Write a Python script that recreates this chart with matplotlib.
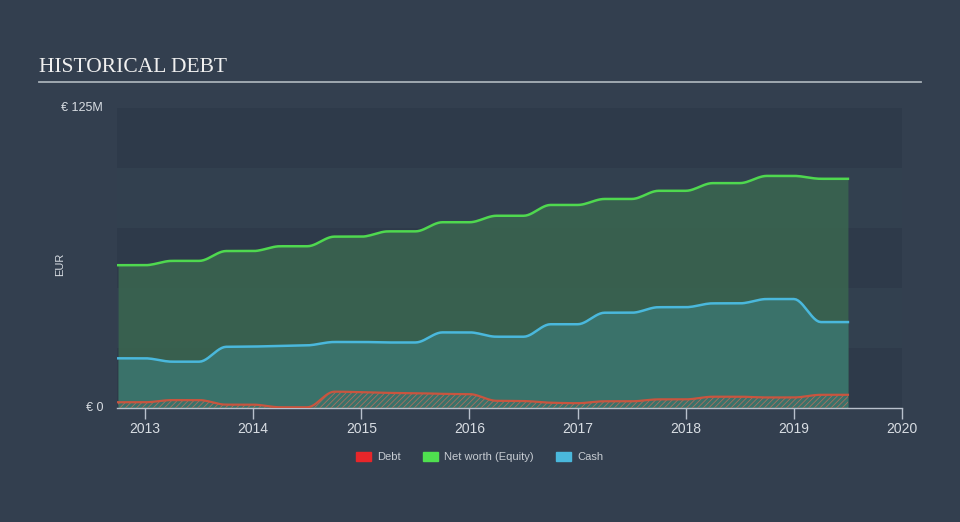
import numpy as np
import matplotlib
matplotlib.use("Agg")
import matplotlib.pyplot as plt
from matplotlib.patches import Patch

# ---- data (EUR millions, quarterly) ----
dates = [2012.75, 2013.0, 2013.25, 2013.5, 2013.75, 2014.0, 2014.25, 2014.5,
         2014.75, 2015.0, 2015.25, 2015.5, 2015.75, 2016.0, 2016.25, 2016.5,
         2016.75, 2017.0, 2017.25, 2017.5, 2017.75, 2018.0, 2018.25, 2018.5,
         2018.75, 2019.0, 2019.25, 2019.5]
net_worth = [59.5, 59.5, 61.3, 61.3, 65.4, 65.4, 67.4, 67.4,
             71.4, 71.4, 73.6, 73.6, 77.4, 77.4, 80.1, 80.1,
             84.6, 84.6, 87.1, 87.1, 90.5, 90.5, 93.7, 93.7,
             96.7, 96.7, 95.5, 95.5]
cash = [20.7, 20.7, 19.3, 19.3, 25.5, 25.6, 25.9, 26.1,
        27.5, 27.5, 27.3, 27.3, 31.5, 31.5, 29.7, 29.7,
        34.9, 34.9, 39.7, 39.7, 42.0, 42.0, 43.6, 43.6,
        45.4, 45.4, 35.8, 35.8]
debt = [2.4, 2.4, 3.3, 3.3, 1.4, 1.4, 0.3, 0.3,
        6.8, 6.6, 6.3, 6.2, 5.9, 5.8, 3.0, 2.9,
        2.2, 2.0, 2.8, 2.8, 3.6, 3.6, 4.7, 4.7,
        4.4, 4.4, 5.5, 5.5]
year_ticks = [2013, 2014, 2015, 2016, 2017, 2018, 2019, 2020]
legend_labels = ["Debt", "Net worth (Equity)", "Cash"]


def pchip(x, y, n=12):
    x = np.asarray(x, float); y = np.asarray(y, float)
    h = np.diff(x); d = np.diff(y) / h
    m = np.zeros_like(y)
    for k in range(1, len(y) - 1):
        if d[k - 1] * d[k] > 0:
            w1 = 2 * h[k] + h[k - 1]; w2 = h[k] + 2 * h[k - 1]
            m[k] = (w1 + w2) / (w1 / d[k - 1] + w2 / d[k])
    xs, ys = [], []
    for k in range(len(x) - 1):
        t = np.linspace(0, 1, n, endpoint=False)
        h00 = 2 * t**3 - 3 * t**2 + 1; h10 = t**3 - 2 * t**2 + t
        h01 = -2 * t**3 + 3 * t**2; h11 = t**3 - t**2
        xs.append(x[k] + t * h[k])
        ys.append(h00 * y[k] + h10 * h[k] * m[k] + h01 * y[k + 1] + h11 * h[k] * m[k + 1])
    xs.append([x[-1]]); ys.append([y[-1]])
    return np.concatenate(xs), np.concatenate(ys)


BG = "#333f4f"
SANS = ["Liberation Sans", "DejaVu Sans"]
plt.rcParams["hatch.linewidth"] = 0.6

fig = plt.figure(figsize=(9.6, 5.22), dpi=100, facecolor=BG)
ax = fig.add_axes([117 / 960, 1 - 408 / 522, (902 - 117) / 960, 300 / 522])
ax.set_facecolor(BG)

xmin, xmax = 2012.74, 2020.0
ymax = 125
# background bands
for i in range(5):
    c = "#2e3a4a" if i % 2 == 0 else "#32404f"
    ax.axhspan(i * 25, (i + 1) * 25, color=c, zorder=0, lw=0)

xs, nw = pchip(dates, net_worth)
_, cs = pchip(dates, cash)
_, db = pchip(dates, debt)

ax.fill_between(xs, 0, nw, color="#39634f", alpha=0.93, lw=0, zorder=1)
ax.fill_between(xs, 0, cs, color="#3b746c", alpha=0.95, lw=0, zorder=2)
ax.fill_between(xs, 0, db, facecolor="none", edgecolor="#a8705f", hatch="//////", lw=0, zorder=3)
ax.plot(xs, nw, color="#4fd84f", lw=1.8, zorder=5)
ax.plot(xs, cs, color="#4ab8dc", lw=1.8, zorder=5)
ax.plot(xs, db, color="#c9553f", lw=1.6, zorder=5)

ax.set_xlim(xmin, xmax)
ax.set_ylim(0, ymax)
for s in ["top", "right", "left"]:
    ax.spines[s].set_visible(False)
ax.spines["bottom"].set_color("#b8c0cc")
ax.spines["bottom"].set_linewidth(1)
ax.set_xticks(year_ticks)
ax.set_xticklabels([str(y) for y in year_ticks], family=SANS)
ax.tick_params(axis="x", colors="#b8c0cc", labelcolor="#d8dde3", labelsize=10,
               length=8, width=1, pad=2)
ax.set_yticks([])

fig.text(103 / 960, 1 - 108 / 522, "€ 125M", color="#d8dde3", fontsize=9,
         ha="right", va="center", family=SANS)
fig.text(103 / 960, 1 - 408 / 522, "€ 0", color="#d8dde3", fontsize=9,
         ha="right", va="center", family=SANS)
fig.text(60 / 960, 1 - 264 / 522, "EUR", color="#d8dde3", fontsize=8,
         ha="center", va="center", rotation=90, family=SANS)

# title and rule
fig.text(39 / 960, 1 - 67 / 522, "HISTORICAL DEBT", color="#f0f0f0", fontsize=15.5,
         family="Liberation Serif", ha="left", va="center")
fig.add_artist(plt.Line2D([39 / 960, 921 / 960], [1 - 82 / 522, 1 - 82 / 522],
                          color="#a8b0b8", lw=1.3))

handles = [Patch(color="#e8262a"), Patch(color="#4fe04f"), Patch(color="#4ab8dc")]
leg = fig.legend(handles, legend_labels, loc="center", bbox_to_anchor=(480 / 960, 1 - 457 / 522),
                 ncol=3, frameon=False, prop={"family": SANS, "size": 8},
                 handlelength=1.3, handleheight=0.9,
                 columnspacing=2.0, handletextpad=0.6)
for t in leg.get_texts():
    t.set_color("#c8cdd3")

fig.savefig("out.png", dpi=100, facecolor=BG)
